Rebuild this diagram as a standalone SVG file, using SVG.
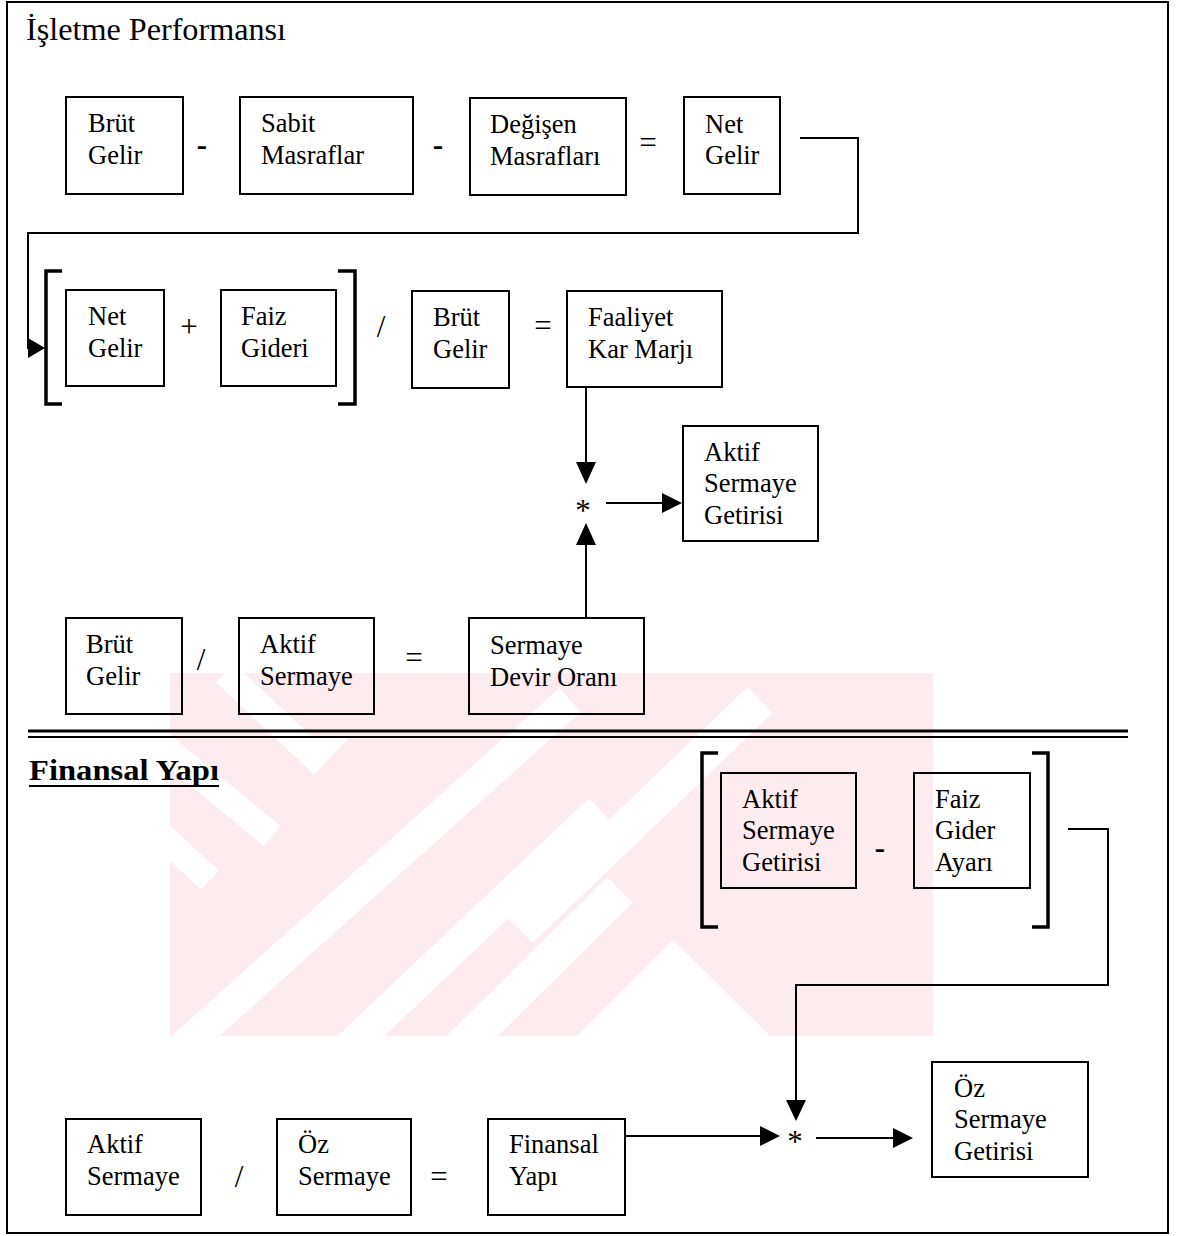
<svg xmlns="http://www.w3.org/2000/svg" width="1181" height="1236" viewBox="0 0 1181 1236">
<style>
.box{fill:none;stroke:#000;stroke-width:2}
.t{font-family:"Liberation Serif","Times New Roman",serif;font-size:26.5px;fill:#000}
.op{font-family:"Liberation Serif","Times New Roman",serif;font-size:31px;fill:#000;text-anchor:middle}
.dash{font-weight:bold}
.ln{fill:none;stroke:#000;stroke-width:2}
.br{fill:none;stroke:#000;stroke-width:3.5}
.ah{fill:#000}
.wm{fill:#fdecef}
.wc{stroke:#fff;fill:none}
</style>
<defs>
<clipPath id="wmclip"><rect x="170" y="673" width="763" height="363"/></clipPath>
</defs>
<rect x="0" y="0" width="1181" height="1236" fill="#fff"/>
<g id="watermark" clip-path="url(#wmclip)">
<rect class="wm" x="170" y="673" width="763" height="363"/>
<line class="wc" x1="180" y1="1050" x2="570" y2="700" stroke-width="32"/>
<line class="wc" x1="346" y1="1050" x2="600" y2="810" stroke-width="32"/>
<line class="wc" x1="458" y1="1050" x2="620" y2="890" stroke-width="36"/>
<line class="wc" x1="520" y1="930" x2="760" y2="700" stroke-width="36"/>
<line class="wc" x1="150" y1="735" x2="272" y2="836" stroke-width="26"/>
<line class="wc" x1="150" y1="825" x2="210" y2="880" stroke-width="26"/>
<line class="wc" x1="225" y1="673" x2="323" y2="765" stroke-width="26"/>
<polygon points="577,1036 673,940 770,1036" fill="#fff"/>
<polygon points="300,737 350,737 323,765" fill="#fff"/>
</g>
<rect x="7" y="2" width="1161" height="1231" fill="none" stroke="#000" stroke-width="2"/>
<text class="t" x="26" y="40" style="font-size:32px" textLength="260" lengthAdjust="spacingAndGlyphs">İşletme Performansı</text>
<text class="t" x="29" y="780" style="font-size:29px;font-weight:bold" textLength="190" lengthAdjust="spacingAndGlyphs">Finansal Yapı</text>
<line x1="29" y1="786" x2="219" y2="786" stroke="#000" stroke-width="2"/>
<line x1="28" y1="731" x2="1128" y2="731" stroke="#000" stroke-width="3"/>
<line x1="28" y1="737" x2="1128" y2="737" stroke="#000" stroke-width="2"/>

<g id="n-brut1"><rect class="box" x="66" y="97" width="117" height="97"/><text class="t" x="88" y="132">Brüt</text><text class="t" x="88" y="164">Gelir</text></g>
<g id="n-sabit"><rect class="box" x="240" y="97" width="173" height="97"/><text class="t" x="261" y="132">Sabit</text><text class="t" x="261" y="164">Masraflar</text></g>
<g id="n-degisen"><rect class="box" x="470" y="98" width="156" height="97"/><text class="t" x="490" y="133">Değişen</text><text class="t" x="490" y="165">Masrafları</text></g>
<g id="n-net1"><rect class="box" x="684" y="97" width="96" height="97"/><text class="t" x="705" y="133">Net</text><text class="t" x="705" y="164">Gelir</text></g>

<g id="n-net2"><rect class="box" x="66" y="290" width="98" height="96"/><text class="t" x="88" y="325">Net</text><text class="t" x="88" y="357">Gelir</text></g>
<g id="n-faiz"><rect class="box" x="221" y="290" width="115" height="96"/><text class="t" x="241" y="325">Faiz</text><text class="t" x="241" y="357">Gideri</text></g>
<g id="n-brut2"><rect class="box" x="412" y="291" width="97" height="97"/><text class="t" x="433" y="326">Brüt</text><text class="t" x="433" y="358">Gelir</text></g>
<g id="n-faaliyet"><rect class="box" x="567" y="291" width="155" height="96"/><text class="t" x="588" y="326">Faaliyet</text><text class="t" x="588" y="358">Kar Marjı</text></g>
<g id="n-asg1"><rect class="box" x="683" y="426" width="135" height="115"/><text class="t" x="704" y="461">Aktif</text><text class="t" x="704" y="492">Sermaye</text><text class="t" x="704" y="524">Getirisi</text></g>

<g id="n-brut3"><rect class="box" x="66" y="618" width="116" height="96"/><text class="t" x="86" y="653">Brüt</text><text class="t" x="86" y="685">Gelir</text></g>
<g id="n-aktif1"><rect class="box" x="239" y="618" width="135" height="96"/><text class="t" x="260" y="653">Aktif</text><text class="t" x="260" y="685">Sermaye</text></g>
<g id="n-devir"><rect class="box" x="469" y="618" width="175" height="96"/><text class="t" x="490" y="654">Sermaye</text><text class="t" x="490" y="686">Devir Oranı</text></g>

<g id="n-asg2"><rect class="box" x="721" y="773" width="135" height="115"/><text class="t" x="742" y="808">Aktif</text><text class="t" x="742" y="839">Sermaye</text><text class="t" x="742" y="871">Getirisi</text></g>
<g id="n-faizgider"><rect class="box" x="914" y="773" width="116" height="115"/><text class="t" x="935" y="808">Faiz</text><text class="t" x="935" y="839">Gider</text><text class="t" x="935" y="871">Ayarı</text></g>

<g id="n-aktif2"><rect class="box" x="66" y="1119" width="135" height="96"/><text class="t" x="87" y="1153">Aktif</text><text class="t" x="87" y="1185">Sermaye</text></g>
<g id="n-oz"><rect class="box" x="277" y="1119" width="134" height="96"/><text class="t" x="298" y="1153">Öz</text><text class="t" x="298" y="1185">Sermaye</text></g>
<g id="n-finyapi"><rect class="box" x="488" y="1119" width="137" height="96"/><text class="t" x="509" y="1153">Finansal</text><text class="t" x="509" y="1185">Yapı</text></g>
<g id="n-osg"><rect class="box" x="932" y="1062" width="156" height="115"/><text class="t" x="954" y="1097">Öz</text><text class="t" x="954" y="1128">Sermaye</text><text class="t" x="954" y="1160">Getirisi</text></g>

<g id="operators">
<text class="op dash" x="202" y="155">-</text>
<text class="op dash" x="438" y="155">-</text>
<text class="op" x="648" y="153">=</text>
<text class="op" x="189" y="337">+</text>
<text class="op" x="381" y="337">/</text>
<text class="op" x="543" y="336">=</text>
<text class="op" x="583" y="521">*</text>
<text class="op" x="201" y="670">/</text>
<text class="op" x="414" y="668">=</text>
<text class="op dash" x="880" y="858">-</text>
<text class="op" x="239" y="1187">/</text>
<text class="op" x="439" y="1187">=</text>
<text class="op" x="795" y="1152">*</text>
</g>

<g id="brackets">
<polyline class="br" points="62,271 46,271 46,404 62,404"/>
<polyline class="br" points="338,271 355,271 355,404 338,404"/>
<polyline class="br" points="718,753 702,753 702,927 718,927"/>
<polyline class="br" points="1032,753 1048,753 1048,927 1032,927"/>
</g>

<g id="connectors">
<polyline class="ln" points="800,138 858,138 858,233 28,233 28,348 30,348"/>
<polygon class="ah" points="28,338 28,358 45,348"/>
<line class="ln" x1="586" y1="387" x2="586" y2="464"/>
<polygon class="ah" points="576,462 596,462 586,484"/>
<line class="ln" x1="586" y1="617" x2="586" y2="542"/>
<polygon class="ah" points="576,545 596,545 586,523"/>
<line class="ln" x1="606" y1="503" x2="664" y2="503"/>
<polygon class="ah" points="662,493 662,513 682,503"/>
<polyline class="ln" points="1068,829 1108,829 1108,985 796,985 796,1102"/>
<polygon class="ah" points="786,1100 806,1100 796,1121"/>
<line class="ln" x1="625" y1="1136" x2="762" y2="1136"/>
<polygon class="ah" points="760,1126 760,1146 780,1136"/>
<line class="ln" x1="816" y1="1138" x2="895" y2="1138"/>
<polygon class="ah" points="893,1128 893,1148 913,1138"/>
</g>
</svg>
